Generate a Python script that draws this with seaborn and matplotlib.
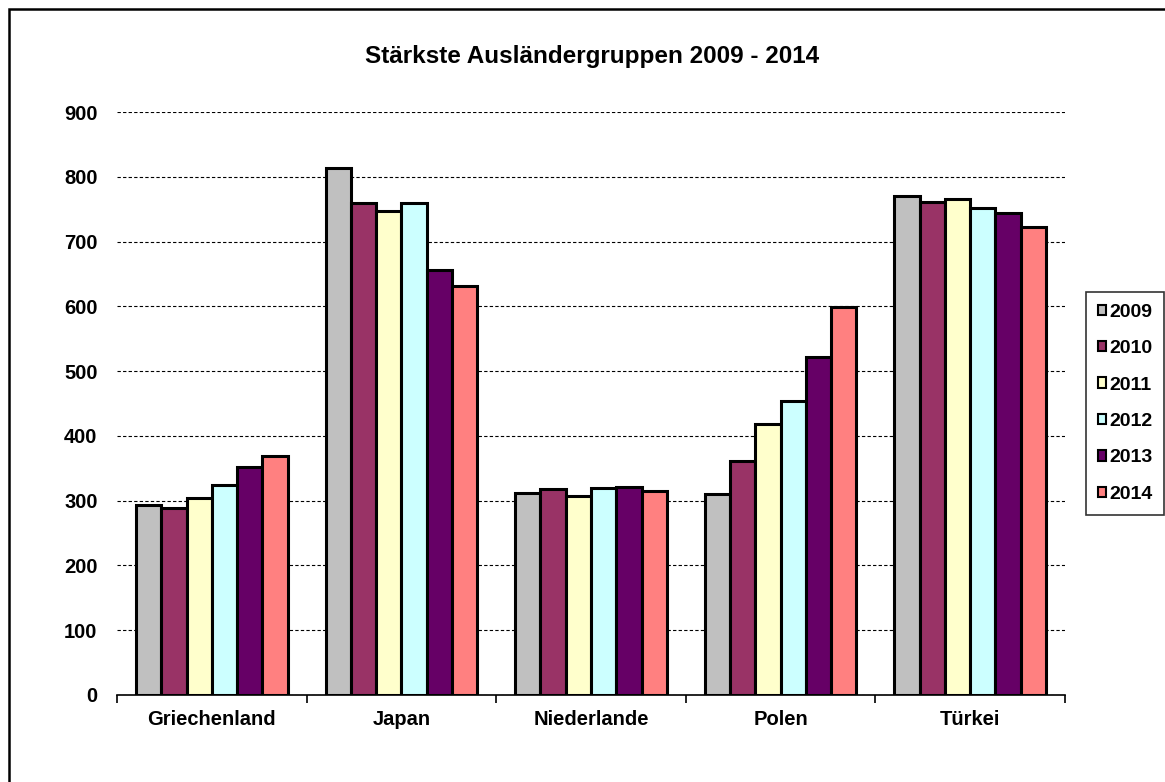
import matplotlib
matplotlib.use("Agg")
import matplotlib.pyplot as plt
import seaborn as sns
import pandas as pd
from matplotlib.patches import Rectangle
from matplotlib.ticker import FixedLocator

countries = ["Griechenland", "Japan", "Niederlande", "Polen", "Türkei"]
years = ["2009", "2010", "2011", "2012", "2013", "2014"]
v2009 = [293, 813, 312, 310, 770]
v2010 = [289, 759, 318, 361, 761]
v2011 = [304, 747, 307, 418, 766]
v2012 = [324, 759, 320, 454, 752]
v2013 = [352, 656, 321, 522, 744]
v2014 = [369, 631, 315, 599, 722]
yticks = [0, 100, 200, 300, 400, 500, 600, 700, 800, 900]
colors = ["#C0C0C0", "#993366", "#FFFFCC", "#CCFFFF", "#660066", "#FF8080"]

series = [v2009, v2010, v2011, v2012, v2013, v2014]
rows = []
for y, vals in zip(years, series):
    for c, v in zip(countries, vals):
        rows.append({"Land": c, "Jahr": y, "Wert": v})
df = pd.DataFrame(rows)

sns.set_theme(style="white")
plt.rcParams["font.family"] = ["Liberation Sans", "DejaVu Sans"]
plt.rcParams["font.weight"] = "bold"
plt.rcParams["text.color"] = "black"
plt.rcParams["xtick.color"] = "black"
plt.rcParams["ytick.color"] = "black"
plt.rcParams["axes.labelcolor"] = "black"

fig = plt.figure(figsize=(11.65, 7.82), dpi=100)
ax = fig.add_axes([117/1165, 1-695/782, (1065-117)/1165, (695-112)/782])

sns.barplot(data=df, x="Land", y="Wert", hue="Jahr", order=countries,
            hue_order=years, palette=colors, saturation=1, width=0.8,
            edgecolor="black", linewidth=2.2, ax=ax, legend=True)

ax.set_ylim(0, 900)
ax.set_xlim(-0.5, 4.5)
ax.set_yticks(yticks)
ax.set_yticklabels([str(t) for t in yticks], fontsize=14.5, fontweight="bold")
ax.tick_params(axis="y", length=0, pad=14)
ax.tick_params(axis="x", which="major", length=0, pad=11, labelsize=14.5)
for lab in ax.get_xticklabels():
    lab.set_fontweight("bold")
ax.xaxis.set_minor_locator(FixedLocator([-0.5, 0.5, 1.5, 2.5, 3.5, 4.5]))
ax.tick_params(axis="x", which="minor", length=6, width=1.2, color="black",
               direction="out", bottom=True)
ax.set_xlabel("")
ax.set_ylabel("")
ax.yaxis.grid(True, linestyle=(0, (3, 2)), color="black", linewidth=0.8)
ax.set_axisbelow(True)
for s in ["top", "right", "left"]:
    ax.spines[s].set_visible(False)
ax.spines["bottom"].set_color("black")
ax.spines["bottom"].set_linewidth(1.2)

h, l = ax.get_legend_handles_labels()
ax.get_legend().remove()
leg = fig.legend(h, l, loc="upper left", bbox_to_anchor=(1086/1165, 1-292/782),
                 frameon=True, fancybox=False, fontsize=14, handlelength=0.45,
                 handleheight=0.45, handletextpad=0.15, labelspacing=1.0,
                 borderpad=0.6, borderaxespad=0)
leg.get_frame().set_edgecolor("black")
leg.get_frame().set_linewidth(1.2)
for t in leg.get_texts():
    t.set_fontweight("bold")
for p in leg.get_patches():
    p.set_linewidth(1.5)

fig.text(592/1165, 1-56/782, "Stärkste Ausländergruppen 2009 - 2014",
         ha="center", va="center", fontsize=17.5, fontweight="bold")

fig.patches.append(Rectangle((9/1165, -0.1), 1.2, 1-9/782+0.1,
                             transform=fig.transFigure, fill=False,
                             edgecolor="black", linewidth=1.8))

fig.savefig("out.png", dpi=100)
